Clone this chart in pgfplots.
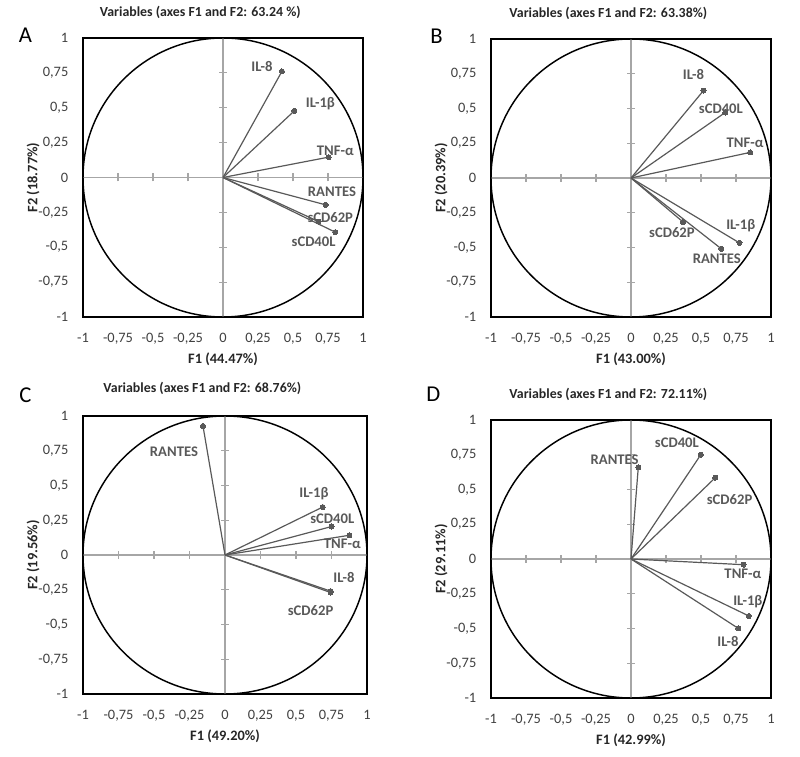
\documentclass[border=0pt]{standalone}
\usepackage{pgfplots}
\pgfplotsset{compat=1.18}
\usepackage{fontspec}
\setmainfont{Carlito}
\definecolor{vec}{HTML}{595959}
\definecolor{zl}{HTML}{A6A6A6}
\definecolor{txt}{HTML}{404040}
\definecolor{ttl}{HTML}{262626}

\tikzset{lab/.style={font=\bfseries\fontsize{11}{12}\selectfont, text=vec, anchor=center, pos=1, inner sep=0pt}}

\pgfplotsset{
 pca/.style={
  scale only axis, xmin=-1, xmax=1, ymin=-1, ymax=1, clip=false,
  axis line style={black, line width=1.1pt},
  xtick={-1,-0.75,-0.5,-0.25,0,0.25,0.5,0.75,1},
  ytick={-1,-0.75,-0.5,-0.25,0,0.25,0.5,0.75,1},
  major tick length=0pt,
  xticklabels={-1,{-0,75},{-0,5},{-0,25},0,{0,25},{0,5},{0,75},1},
  yticklabels={-1,{-0,75},{-0,5},{-0,25},0,{0,25},{0,5},{0,75},1},
  tick label style={font=\fontsize{10.8}{12}\selectfont, text=txt},
  xticklabel style={anchor=base, yshift=-19pt},
  yticklabel style={anchor=east, xshift=-7.5pt},
  title style={font=\bfseries\fontsize{10.4}{11}\selectfont, text=ttl, anchor=center, at={([xshift=-17pt,yshift=13.5pt]axis description cs:0.5,1)}},
  xlabel style={font=\bfseries\fontsize{10.8}{12}\selectfont, text=ttl, anchor=center, at={([yshift=-32pt]axis description cs:0.5,0)}},
  ylabel style={font=\bfseries\fontsize{10.8}{12}\selectfont, text=ttl, anchor=center, at={([xshift=-37.5pt]axis description cs:0,0.5)}},
  cycle list={{color=vec, solid, mark=*}},
  every axis plot post/.append style={color=vec, solid, line width=0.9pt, mark=*, mark size=1.9pt, mark indices={2}, mark options={fill=vec, draw=vec, line width=0pt, solid}},
  execute at begin axis={
   \draw[zl, line width=1pt] (axis cs:-1,0) -- (axis cs:1,0);
   \draw[zl, line width=1pt] (axis cs:0,-1) -- (axis cs:0,1);
   \pgfplotsinvokeforeach{-0.75,-0.5,-0.25,0.25,0.5,0.75}{
     \draw[zl, line width=0.8pt] ([yshift=-3pt]axis cs:##1,0) -- ([yshift=3pt]axis cs:##1,0);
     \draw[zl, line width=0.8pt] ([xshift=-3pt]axis cs:0,##1) -- ([xshift=3pt]axis cs:0,##1);
   }
   \draw[black, line width=1.1pt] (axis cs:0,0) ellipse [x radius=1, y radius=1];
  },
 },
}

\begin{document}
\begin{tikzpicture}
\useasboundingbox (0,0) rectangle (600pt,567.75pt);

% ---------------- Panel A
\begin{axis}[pca, at={(62.25pt,330pt)}, anchor=south west, width=210pt, height=209.25pt,
  title={Variables (axes F1 and F2: 63.24 \%)}, xlabel={F1 (44.47\%)}, ylabel={F2 (18.77\%)}]
\addplot coordinates {(0,0) (0.421,0.761)} node[lab, xshift=-15pt, yshift=3.75pt] {IL-8};
\addplot coordinates {(0,0) (0.510,0.478)} node[lab, xshift=19.5pt, yshift=5.75pt] {IL-1β};
\addplot coordinates {(0,0) (0.755,0.146)} node[lab, xshift=5pt, yshift=5pt] {TNF-α};
\addplot coordinates {(0,0) (0.733,-0.196)} node[lab, xshift=4.75pt, yshift=9.5pt] {RANTES};
\addplot coordinates {(0,0) (0.683,-0.316)} node[lab, xshift=8.75pt, yshift=3.25pt] {sCD62P};
\addplot coordinates {(0,0) (0.802,-0.392)} node[lab, xshift=-16.25pt, yshift=-7.25pt] {sCD40L};
\end{axis}

% ---------------- Panel B
\begin{axis}[pca, at={(368.25pt,330pt)}, anchor=south west, width=210pt, height=208.5pt,
  title={Variables (axes F1 and F2: 63.38\%)}, xlabel={F1 (43.00\%)}, ylabel={F2 (20.39\%)}]
\addplot coordinates {(0,0) (0.518,0.629)} node[lab, xshift=-7.5pt, yshift=11.75pt] {IL-8};
\addplot coordinates {(0,0) (0.673,0.471)} node[lab, xshift=-3.25pt, yshift=2.5pt] {sCD40L};
\addplot coordinates {(0,0) (0.851,0.184)} node[lab, xshift=-3.75pt, yshift=7pt] {TNF-α};
\addplot coordinates {(0,0) (0.371,-0.316)} node[lab, xshift=-8.25pt, yshift=-8.25pt] {sCD62P};
\addplot coordinates {(0,0) (0.646,-0.510)} node[lab, xshift=-3.5pt, yshift=-7.5pt] {RANTES};
\addplot coordinates {(0,0) (0.775,-0.467)} node[lab, xshift=1pt, yshift=13pt] {IL-1β};
\end{axis}

% ---------------- Panel C
\begin{axis}[pca, at={(62.25pt,47.25pt)}, anchor=south west, width=213pt, height=208.5pt,
  title={Variables (axes F1 and F2: 68.76\%)}, xlabel={F1 (49.20\%)}, ylabel={F2 (19.56\%)},
  title style={at={([xshift=-17pt,yshift=15pt]axis description cs:0.5,1)}}]
\addplot coordinates {(0,0) (-0.155,0.928)} node[lab, xshift=-21.75pt, yshift=-19pt] {RANTES};
\addplot coordinates {(0,0) (0.688,0.345)} node[lab, xshift=-6.5pt, yshift=9.75pt] {IL-1β};
\addplot coordinates {(0,0) (0.751,0.205)} node[lab, xshift=0.5pt, yshift=6pt] {sCD40L};
\addplot coordinates {(0,0) (0.876,0.142)} node[lab, xshift=-5.25pt, yshift=-6.75pt] {TNF-α};
\addplot coordinates {(0,0) (0.744,-0.260)} node[lab, xshift=10pt, yshift=10pt] {IL-8};
\addplot coordinates {(0,0) (0.744,-0.270)} node[lab, xshift=-15pt, yshift=-13.75pt] {sCD62P};
\end{axis}

% ---------------- Panel D
\begin{axis}[pca, at={(368.25pt,44.25pt)}, anchor=south west, width=210pt, height=208.5pt,
  title={Variables (axes F1 and F2: 72.11\%)}, xlabel={F1 (42.99\%)}, ylabel={F2 (29.11\%)}]
\addplot coordinates {(0,0) (0.052,0.659)} node[lab, xshift=-17.75pt, yshift=5.5pt] {RANTES};
\addplot coordinates {(0,0) (0.499,0.751)} node[lab, xshift=-18pt, yshift=9pt] {sCD40L};
\addplot coordinates {(0,0) (0.602,0.585)} node[lab, xshift=10.75pt, yshift=-16.25pt] {sCD62P};
\addplot coordinates {(0,0) (0.804,-0.041)} node[lab, xshift=-0.5pt, yshift=-7pt] {TNF-α};
\addplot coordinates {(0,0) (0.842,-0.410)} node[lab, xshift=-0.75pt, yshift=10.75pt] {IL-1β};
\addplot coordinates {(0,0) (0.766,-0.499)} node[lab, xshift=-7.75pt, yshift=-10pt] {IL-8};
\end{axis}

% panel letters
\node[font=\fontsize{17}{20}\selectfont, text=black] at (19.1pt,541.1pt) {A};
\node[font=\fontsize{17}{20}\selectfont, text=black] at (327.4pt,540.4pt) {B};
\node[font=\fontsize{17}{20}\selectfont, text=black] at (19.1pt,271.5pt) {C};
\node[font=\fontsize{17}{20}\selectfont, text=black] at (325.1pt,271.9pt) {D};
\end{tikzpicture}
\end{document}
